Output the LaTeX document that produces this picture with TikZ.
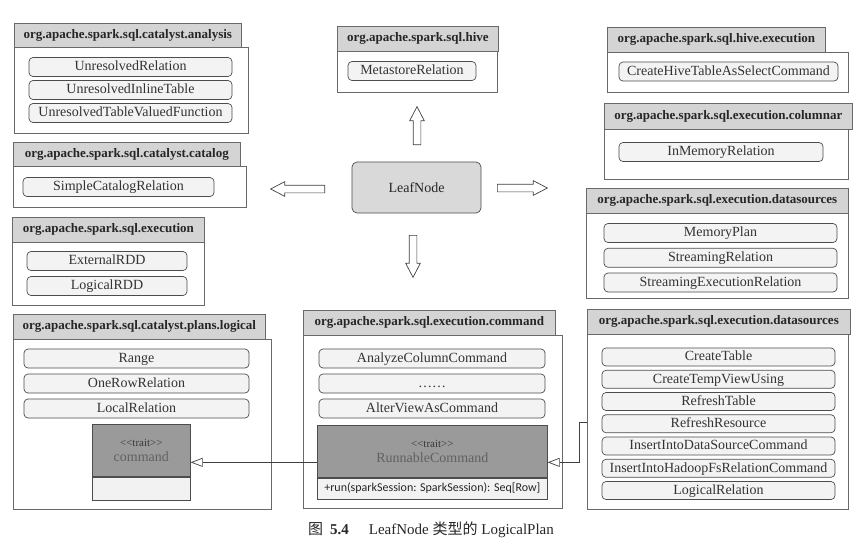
\documentclass[tikz,border=0pt]{standalone}
\usepackage{fontspec}
\setmainfont{Liberation Serif}
\newfontfamily\cjk{Noto Sans CJK SC}
\newfontfamily\calib{Carlito}
\usetikzlibrary{shapes.arrows,arrows.meta}
\definecolor{headgray}{RGB}{212,212,212}
\definecolor{itemfill}{RGB}{243,243,243}
\definecolor{traitgray}{RGB}{154,154,154}
\definecolor{boxline}{RGB}{105,105,105}

\tikzset{
  pkgbody/.style={draw=boxline,fill=white,line width=0.7pt,anchor=north west,inner sep=0pt},
  pkghead/.style={draw=boxline,fill=headgray,line width=0.7pt,anchor=north west,inner sep=0pt,
    text=black!85,font=\fontsize{13}{15}\selectfont\bfseries},
  item/.style={draw=black!70,fill=itemfill,line width=0.7pt,rounded corners=4pt,inner sep=0pt,
    minimum height=19pt,text=black!80,text height=10pt,text depth=2.5pt,font=\fontsize{14}{16}\selectfont},
  traittop/.style={draw=black!70,fill=traitgray,line width=0.7pt,anchor=north west,inner sep=0pt,
    align=center,text=black!62,font=\fontsize{14}{15}\selectfont},
  traitbot/.style={draw=black!70,fill=black!5,line width=0.7pt,anchor=north west,inner sep=0pt},
  blockarr/.style={single arrow,draw=black!75,fill=white,line width=0.7pt,inner sep=3.5pt,
    minimum width=14pt,single arrow head extend=3.5pt,single arrow tip angle=55,anchor=tail},
  inherit/.style={draw=black!75,line width=0.7pt,-{Triangle[open,length=12pt,width=9pt]}}
}
\newcommand{\traitlabel}{{\fontsize{11}{12}\selectfont\color{black!78}<{}<trait>{}>}}

\begin{document}
\begin{tikzpicture}[x=1pt,y=-1pt]
\fill[white] (0,0) rectangle (862,550);
\useasboundingbox (0,0) rectangle (862,550);

% package boxes, left column
\node[pkgbody,minimum width=234pt,minimum height=86pt] (anaBody) at (14,47) {};
\node[pkghead,minimum width=227pt,minimum height=24pt] (anaHead) at (14,23) {org.apache.spark.sql.catalyst.analysis};
\foreach \name [count=\i] in {UnresolvedRelation,UnresolvedInlineTable,UnresolvedTableValuedFunction}
  \node[item,minimum width=203pt] (ana\i) at (130.5,{44+23*\i}) {\name};

\node[pkgbody,minimum width=233pt,minimum height=41pt] (catBody) at (13,166) {};
\node[pkghead,minimum width=227pt,minimum height=24pt] (catHead) at (13,142) {org.apache.spark.sql.catalyst.catalog};
\node[item,minimum width=191pt] (cat1) at (118.5,187) {SimpleCatalogRelation};

\node[pkgbody,minimum width=192pt,minimum height=63pt] (exeBody) at (12,242) {};
\node[pkghead,minimum width=192pt,minimum height=25pt] (exeHead) at (12,217) {org.apache.spark.sql.execution};
\foreach \name [count=\i] in {ExternalRDD,LogicalRDD}
  \node[item,minimum width=160pt] (exe\i) at (107,{236+25*\i}) {\name};

\node[pkgbody,minimum width=258pt,minimum height=170pt] (logBody) at (13,339) {};
\node[pkghead,minimum width=252pt,minimum height=25pt] (logHead) at (13,314) {org.apache.spark.sql.catalyst.plans.logical};
\foreach \name [count=\i] in {Range,OneRowRelation,LocalRelation}
  \node[item,minimum width=225pt] (log\i) at (136.5,{333.5+25*\i}) {\name};
\node[traittop,minimum width=98pt,minimum height=52pt] (cmdTop) at (92,424)
  {\traitlabel\\ command};
\node[traitbot,minimum width=98pt,minimum height=23pt] (cmdBot) at (cmdTop.south west) {};

% middle column
\node[pkgbody,minimum width=160pt,minimum height=41pt] (hiveBody) at (337,51) {};
\node[pkghead,minimum width=161pt,minimum height=25pt] (hiveHead) at (337,26) {org.apache.spark.sql.hive};
\node[item,minimum width=128pt] (hive1) at (412,71) {MetastoreRelation};

\node[draw=black!70,fill=black!15,line width=0.7pt,rounded corners=5pt,minimum width=129pt,minimum height=51pt,
  font=\fontsize{14}{16}\selectfont,text=black!85] (leaf) at (416.5,187.5) {LeafNode};
\node[blockarr,rotate=90,minimum height=38pt] (toHive) at (417,145) {};
\node[blockarr,rotate=180,minimum height=54pt] (toCatalog) at (325,189) {};
\node[blockarr,minimum height=50pt] (toSources) at (497,188) {};
\node[blockarr,rotate=-90,minimum height=42pt] (toCommand) at (413,235) {};

\node[pkgbody,minimum width=259pt,minimum height=173pt] (cmdBody) at (303,335) {};
\node[pkghead,minimum width=252pt,minimum height=25pt] (cmdHead) at (303,310) {org.apache.spark.sql.execution.command};
\foreach \name [count=\i] in {AnalyzeColumnCommand,……,AlterViewAsCommand}
  \node[item,minimum width=226pt] (cmd\i) at (432,{333.5+25*\i}) {\name};
\node[traittop,minimum width=230pt,minimum height=52pt] (rcTop) at (317,425)
  {\traitlabel\\ RunnableCommand};
\node[traitbot,minimum width=230pt,minimum height=21pt,text=black!85,font=\calib\fontsize{12}{14}\selectfont]
  (rcBot) at (rcTop.south west) {+run(sparkSession: SparkSession): Seq[Row]};

% right column
\node[pkgbody,minimum width=241pt,minimum height=40pt] (hexBody) at (607,52) {};
\node[pkghead,minimum width=218pt,minimum height=25pt] (hexHead) at (607,27) {org.apache.spark.sql.hive.execution};
\node[item,minimum width=219pt] (hex1) at (728.5,71.5) {CreateHiveTableAsSelectCommand};

\node[pkgbody,minimum width=244pt,minimum height=50pt] (colBody) at (604,129) {};
\node[pkghead,minimum width=248pt,minimum height=26pt] (colHead) at (604,103) {org.apache.spark.sql.execution.columnar};
\node[item,minimum width=204pt] (col1) at (721,152) {InMemoryRelation};

\node[pkgbody,minimum width=262pt,minimum height=85pt] (dsoBody) at (586,213) {};
\node[pkghead,minimum width=262pt,minimum height=25pt] (dsoHead) at (586,188) {org.apache.spark.sql.execution.datasources};
\foreach \name [count=\i] in {MemoryPlan,StreamingRelation,StreamingExecutionRelation}
  \node[item,minimum width=233pt] (dso\i) at (720.5,{208.25+24.75*\i}) {\name};

\node[pkgbody,minimum width=261pt,minimum height=175pt] (dstBody) at (587,334) {};
\node[pkghead,minimum width=263pt,minimum height=25pt] (dstHead) at (587,309) {org.apache.spark.sql.execution.datasources};
\foreach \name [count=\i] in {CreateTable,CreateTempViewUsing,RefreshTable,RefreshResource,
    InsertIntoDataSourceCommand,InsertIntoHadoopFsRelationCommand,LogicalRelation}
  \node[item,minimum width=233pt,minimum height=18pt] (dst\i) at (718.5,{334.75+22.25*\i}) {\name};

% inheritance
\draw[inherit] ([yshift=-11pt]rcTop.west) -- ([yshift=-12pt]cmdTop.east);
\draw[inherit] (dstBody.west) -- ++(-8,0) |- ([yshift=-11pt]rcTop.east);

\node[font=\fontsize{15}{17}\selectfont,text=black!85] (caption) at (431,530)
  {{\cjk 图}\hspace{7pt}\textbf{5.4}\hspace{20pt}LeafNode {\cjk 类型的} LogicalPlan};
\end{tikzpicture}
\end{document}
